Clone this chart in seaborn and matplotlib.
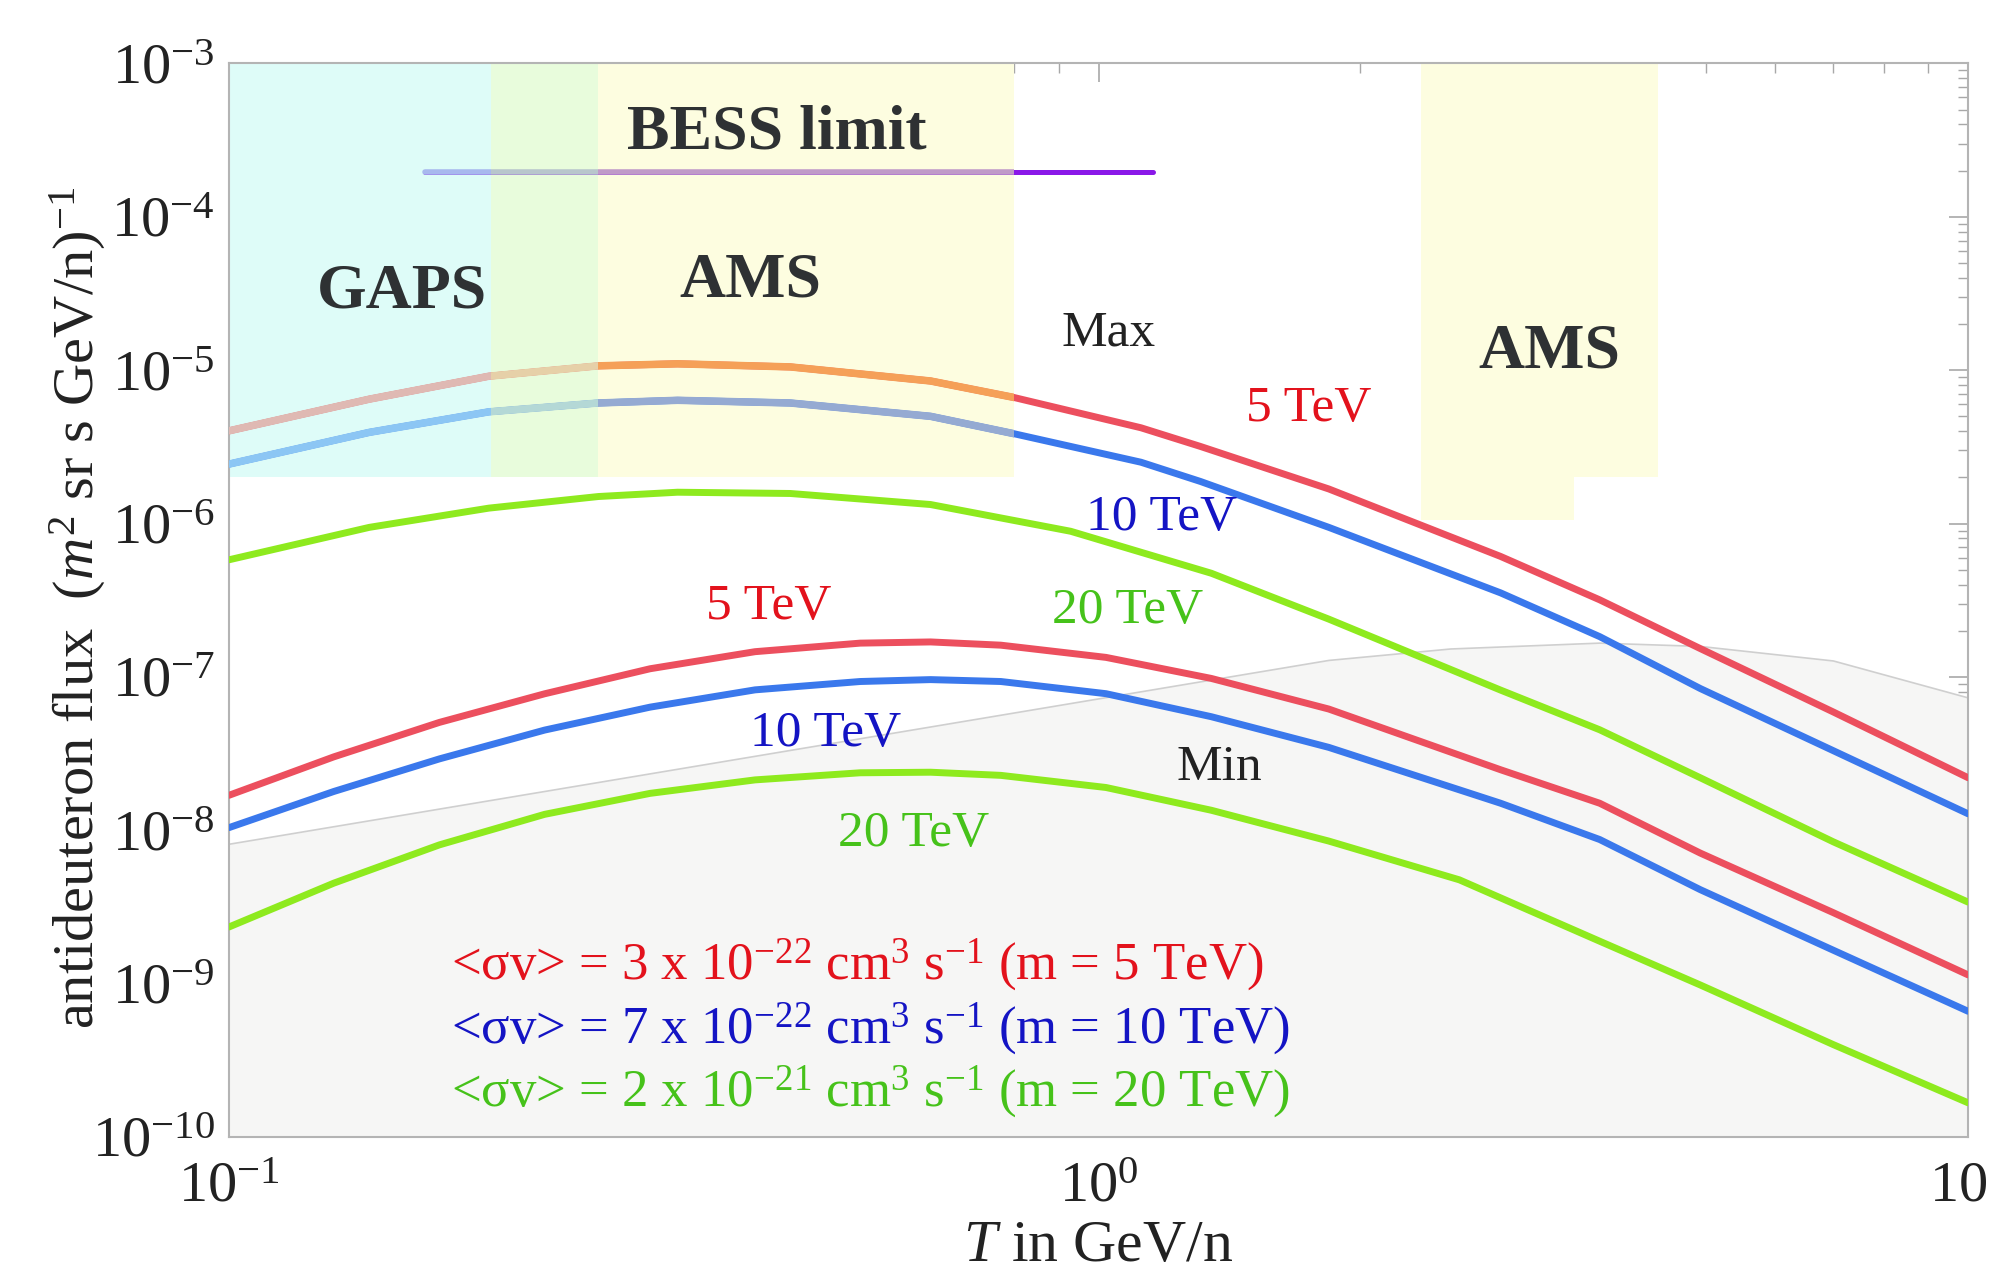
import numpy as np
import matplotlib
matplotlib.use("Agg")
import matplotlib.pyplot as plt
from matplotlib.patches import Rectangle
from matplotlib.ticker import LogLocator, NullFormatter
import seaborn as sns

# ---- values ----
# "Max" propagation curves
t_max_5 = [0.1, 0.145, 0.199, 0.266, 0.328, 0.442, 0.641, 0.798, 1.119, 1.31, 1.84, 2.9, 3.77, 4.92, 7.0, 10.0]
max_5tev = [4.02e-6, 6.47e-6, 9.13e-6, 1.067e-5, 1.10e-5, 1.05e-5, 8.5e-6, 6.65e-6, 4.21e-6, 3.18e-6,
            1.68e-6, 6.1e-7, 3.18e-7, 1.53e-7, 5.9e-8, 2.2e-8]
t_max_10 = [0.1, 0.145, 0.199, 0.266, 0.328, 0.442, 0.641, 0.798, 1.119, 1.31, 1.84, 2.9, 3.77, 4.92, 7.0, 10.0]
max_10tev = [2.44e-6, 3.93e-6, 5.35e-6, 6.11e-6, 6.36e-6, 6.11e-6, 5.0e-6, 3.86e-6, 2.51e-6, 1.88e-6,
             9.44e-7, 3.53e-7, 1.83e-7, 8.4e-8, 3.3e-8, 1.28e-8]
t_max_20 = [0.1, 0.145, 0.199, 0.266, 0.328, 0.442, 0.641, 0.929, 1.348, 1.84, 2.9, 3.77, 4.92, 7.0, 10.0]
max_20tev = [5.8e-7, 9.44e-7, 1.26e-6, 1.50e-6, 1.60e-6, 1.57e-6, 1.33e-6, 8.9e-7, 4.74e-7, 2.38e-7,
             8.2e-8, 4.52e-8, 2.2e-8, 8.4e-9, 3.4e-9]

# "Min" propagation curves
t_min = [0.1, 0.132, 0.1746, 0.2307, 0.305, 0.4027, 0.532, 0.641, 0.772, 1.02, 1.348, 1.84,
         2.9, 3.77, 4.92, 7.0, 10.0]
min_5tev = [1.69e-8, 3.01e-8, 5.05e-8, 7.76e-8, 1.13e-7, 1.46e-7, 1.66e-7, 1.69e-7, 1.61e-7, 1.34e-7,
            9.77e-8, 6.17e-8, 2.48e-8, 1.5e-8, 7.1e-9, 2.9e-9, 1.14e-9]
min_10tev = [1.04e-8, 1.79e-8, 2.92e-8, 4.5e-8, 6.35e-8, 8.23e-8, 9.33e-8, 9.6e-8, 9.33e-8, 7.77e-8,
             5.5e-8, 3.47e-8, 1.5e-8, 8.7e-9, 4.1e-9, 1.65e-9, 6.6e-10]
t_min_20 = [0.1, 0.132, 0.1746, 0.2307, 0.305, 0.4027, 0.532, 0.641, 0.772, 1.02, 1.348, 1.84,
            2.6, 3.77, 4.92, 7.0, 10.0]
min_20tev = [2.34e-9, 4.52e-9, 8.03e-9, 1.27e-8, 1.74e-8, 2.13e-8, 2.37e-8, 2.39e-8, 2.28e-8, 1.9e-8,
             1.35e-8, 8.5e-9, 4.75e-9, 1.89e-9, 9.8e-10, 4.0e-10, 1.67e-10]

# grey background (secondary antideuterons)
t_bg = [0.1, 1.84, 2.54, 3.77, 4.92, 7.0, 10.0]
bg_flux = [8.1e-9, 1.28e-7, 1.52e-7, 1.66e-7, 1.58e-7, 1.27e-7, 7.3e-8]

# experiments
gaps_range = (0.1, 0.266)
ams_low_range = (0.2, 0.8)
region_floor = 2e-6
ams_high_t = [2.35, 3.52, 4.4]
ams_high_floor = [1.06e-6, 2e-6]
bess_range = (0.168, 1.155)
bess_flux = 1.95e-4

y_lo, y_hi = 1e-10, 1e-3

RED, BLUE, GREEN = "#ec4f5e", "#3a78ec", "#8eea1e"
RED_T, BLUE_T, GREEN_T = "#e3121c", "#1414c4", "#46c21a"
BESS_C = "#8a18e8"

sns.set_style("white")
plt.rcParams["font.family"] = ["Liberation Serif", "DejaVu Serif"]
plt.rcParams["mathtext.fontset"] = "custom"
plt.rcParams["mathtext.rm"] = "Liberation Serif"
plt.rcParams["mathtext.it"] = "Liberation Serif:italic"
plt.rcParams["mathtext.bf"] = "Liberation Serif:bold"

fig = plt.figure(figsize=(19.91, 12.84), dpi=100)
ax = fig.add_axes([0.1150, 0.1145, 0.8735, 0.8361])
ax.set_xscale("log")
ax.set_yscale("log")

# shaded detector regions (cyan = GAPS, yellow = AMS, overlap light green)
zones = [(gaps_range[0], ams_low_range[0], "#defcf8"),
         (ams_low_range[0], gaps_range[1], "#e8fcdc"),
         (gaps_range[1], ams_low_range[1], "#fdfde0")]
for x0, x1, c in zones:
    ax.fill_between([x0, x1], [region_floor] * 2, [y_hi] * 2, color=c, lw=0, zorder=1)
for i in range(2):
    ax.fill_between(ams_high_t[i:i + 2], [ams_high_floor[i]] * 2, [y_hi] * 2,
                    color="#fdfde0", lw=0, zorder=1)

# secondary background
ax.fill_between(t_bg, bg_flux, [y_lo] * len(t_bg), color="#f6f6f5", lw=0, zorder=1.2)
sns.lineplot(x=t_bg, y=bg_flux, color="#cfcfcf", linewidth=1.2, ax=ax, zorder=1.3)

lw = 5.0
sns.lineplot(x=t_max_5, y=max_5tev, color=RED, linewidth=lw, ax=ax, zorder=3)
sns.lineplot(x=t_max_10, y=max_10tev, color=BLUE, linewidth=lw, ax=ax, zorder=3)
sns.lineplot(x=t_max_20, y=max_20tev, color=GREEN, linewidth=lw, ax=ax, zorder=3)
sns.lineplot(x=t_min, y=min_5tev, color=RED, linewidth=lw, ax=ax, zorder=3)
sns.lineplot(x=t_min, y=min_10tev, color=BLUE, linewidth=lw, ax=ax, zorder=3)
sns.lineplot(x=t_min_20, y=min_20tev, color=GREEN, linewidth=lw, ax=ax, zorder=3)
sns.lineplot(x=list(bess_range), y=[bess_flux] * 2, color=BESS_C, linewidth=3.6, ax=ax, zorder=3)

# washed-out look of curves inside the shaded zones
washed = [
    (t_max_5, max_5tev, lw, ["#dfb9b3", "#e6d0a8", "#f5a058"]),
    (t_max_10, max_10tev, lw, ["#8cc6f4", "#b4d8d6", "#95aad2"]),
    (list(bess_range), [bess_flux] * 2, 3.6, ["#a8b8ee", "#b8c6cc", "#c09ac8"]),
]
for xs, ys, w, cols in washed:
    for (x0, x1, _), c in zip(zones, cols):
        sns.lineplot(x=xs, y=ys, color=c, linewidth=w + 0.4, ax=ax, zorder=3.2)
        clip = Rectangle((x0, region_floor), x1 - x0, y_hi - region_floor,
                         transform=ax.transData, fill=False)
        ax.lines[-1].set_clip_path(clip)

ax.set_xlim(0.1, 10)
ax.set_ylim(y_lo, y_hi)
ax.yaxis.set_major_locator(LogLocator(base=10, numticks=20))
ax.yaxis.set_minor_locator(LogLocator(base=10, subs=np.arange(2, 10) * 1.0, numticks=100))
ax.yaxis.set_minor_formatter(NullFormatter())
ax.xaxis.set_minor_formatter(NullFormatter())
ax.tick_params(which="both", direction="in", top=True, right=True, color="#a8a8a8")
ax.tick_params(which="major", length=14, width=1.2, labelsize=42, labelcolor="#222222")
ax.tick_params(axis="y", which="major", pad=10)
ax.tick_params(axis="x", which="major", pad=18)
ax.tick_params(which="minor", length=7, width=1.0)
for s in ax.spines.values():
    s.set_color("#b4b4b4")
    s.set_linewidth(1.5)
ax.set_xlabel("")
ax.set_ylabel("")

# labels
bold = dict(fontsize=46, fontweight="bold", color="#2e3133", ha="center", va="center", zorder=5)
ax.text(0.427, 3.5e-4, "BESS limit", **bold)
ax.text(0.158, 3.2e-5, "GAPS", **bold)
ax.text(0.398, 3.8e-5, "AMS", **bold)
ax.text(3.30, 1.3e-5, "AMS", **bold)

norm = dict(fontsize=37, ha="center", va="center", zorder=5)
ax.text(1.027, 1.73e-5, "Max", color="#222222", **norm)
ax.text(1.376, 2.55e-8, "Min", color="#222222", **norm)
ax.text(1.746, 5.6e-6, "5 TeV", color=RED_T, **norm)
ax.text(1.183, 1.09e-6, "10 TeV", color=BLUE_T, **norm)
ax.text(1.080, 2.7e-7, "20 TeV", color=GREEN_T, **norm)
ax.text(0.418, 2.86e-7, "5 TeV", color=RED_T, **norm)
ax.text(0.485, 4.26e-8, "10 TeV", color=BLUE_T, **norm)
ax.text(0.613, 9.5e-9, "20 TeV", color=GREEN_T, **norm)

leg = dict(fontsize=38, ha="left", va="center", zorder=5)
ax.text(0.18, 1.33e-9, r"<σv> = 3 x 10$^{-22}$ cm$^{3}$ s$^{-1}$ (m = 5 TeV)", color=RED_T, **leg)
ax.text(0.18, 5.1e-10, r"<σv> = 7 x 10$^{-22}$ cm$^{3}$ s$^{-1}$ (m = 10 TeV)", color=BLUE_T, **leg)
ax.text(0.18, 1.97e-10, r"<σv> = 2 x 10$^{-21}$ cm$^{3}$ s$^{-1}$ (m = 20 TeV)", color=GREEN_T, **leg)

fig.text(0.039, 0.527, r"antideuteron flux  $(m^{2}$ sr s GeV/n$)^{-1}$", rotation=90,
         fontsize=42, ha="center", va="center", color="#222222")
fig.text(0.5515, 0.029, r"$T$ in GeV/n", fontsize=43, ha="center", va="center", color="#222222")

fig.savefig("out.png", dpi=100)
